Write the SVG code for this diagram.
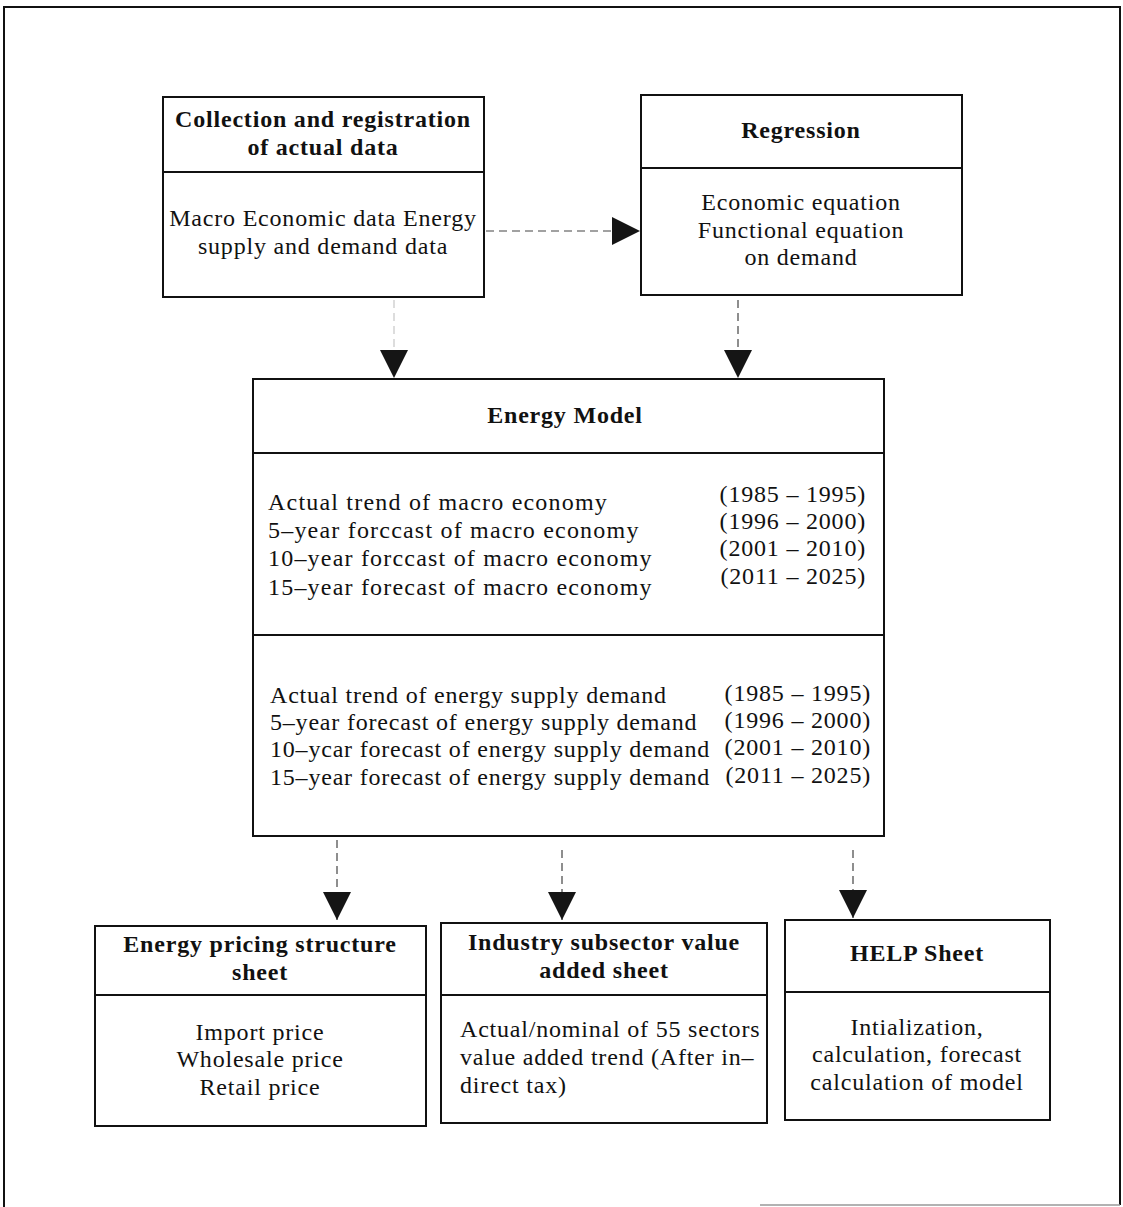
<svg xmlns="http://www.w3.org/2000/svg" width="1123" height="1207" viewBox="0 0 1123 1207">
<defs>
<style>
.box{fill:#fff;stroke:#111;stroke-width:2}
.div{stroke:#111;stroke-width:2}
.frame{stroke:#111;stroke-width:2;fill:none}
.t{font-family:"Liberation Serif","Times New Roman",serif;font-size:24px;font-weight:bold;fill:#111;text-anchor:middle;letter-spacing:0.8px}
.b{font-family:"Liberation Serif","Times New Roman",serif;font-size:24px;fill:#111;letter-spacing:0.8px}
.c{text-anchor:middle}
.e{text-anchor:end}
.w{letter-spacing:1.2px}
.con{stroke:#444;stroke-width:1.2;fill:none;stroke-dasharray:8 5}
</style>
<marker id="tri" viewBox="0 0 28 28" refX="28" refY="14" markerWidth="28" markerHeight="28" markerUnits="userSpaceOnUse" orient="auto">
<path d="M0,0 L28,14 L0,28 Z" fill="#151515"/>
</marker>
</defs>
<rect width="1123" height="1207" fill="#fff"/>
<g id="frame">
<path class="frame" d="M4,1207 L4,7 L1120,7 L1120,1205"/>
<line x1="760" y1="1205" x2="1120" y2="1205" stroke="#999" stroke-width="1.5"/>
</g>
<g id="connectors">
<path class="con" d="M486,231 L640,231" marker-end="url(#tri)"/>
<path class="con" d="M394,300 L394,378" marker-end="url(#tri)" stroke-opacity="0.3"/>
<path class="con" d="M738,300 L738,378" marker-end="url(#tri)" stroke-dasharray="2 5"/>
<path class="con" d="M337,840 L337,920" marker-end="url(#tri)"/>
<path class="con" d="M562,850 L562,920" marker-end="url(#tri)"/>
<path class="con" d="M853,850 L853,918" marker-end="url(#tri)"/>
</g>
<g id="collection">
<rect class="box" x="163" y="97" width="321" height="200"/>
<line class="div" x1="163" y1="172" x2="484" y2="172"/>
<text class="t" x="323" y="127">Collection and registration</text>
<text class="t" x="323" y="155">of actual data</text>
<text class="b c" x="323" y="226">Macro Economic data Energy</text>
<text class="b c" x="323" y="254">supply and demand data</text>
</g>
<g id="regression">
<rect class="box" x="641" y="95" width="321" height="200"/>
<line class="div" x1="641" y1="168" x2="962" y2="168"/>
<text class="t" x="801" y="138">Regression</text>
<text class="b c" x="801" y="210">Economic equation</text>
<text class="b c" x="801" y="238">Functional equation</text>
<text class="b c" x="801" y="265">on demand</text>
</g>
<g id="energy-model">
<rect class="box" x="253" y="379" width="631" height="457"/>
<line class="div" x1="253" y1="453" x2="884" y2="453"/>
<line class="div" x1="253" y1="635" x2="884" y2="635"/>
<text class="t" x="565" y="423">Energy Model</text>
<text class="b w" x="268" y="510">Actual trend of macro economy</text>
<text class="b w" x="268" y="538">5–year forccast of macro economy</text>
<text class="b w" x="268" y="566">10–year forccast of macro economy</text>
<text class="b w" x="268" y="595">15–year forecast of macro economy</text>
<text class="b e" x="866" y="502">(1985 – 1995)</text>
<text class="b e" x="866" y="529">(1996 – 2000)</text>
<text class="b e" x="866" y="556">(2001 – 2010)</text>
<text class="b e" x="866" y="584">(2011 – 2025)</text>
<text class="b" x="270" y="703">Actual trend of energy supply demand</text>
<text class="b" x="270" y="730">5–year forecast of energy supply demand</text>
<text class="b" x="270" y="757">10–ycar forecast of energy supply demand</text>
<text class="b" x="270" y="785">15–year forecast of energy supply demand</text>
<text class="b e" x="871" y="701">(1985 – 1995)</text>
<text class="b e" x="871" y="728">(1996 – 2000)</text>
<text class="b e" x="871" y="755">(2001 – 2010)</text>
<text class="b e" x="871" y="783">(2011 – 2025)</text>
</g>
<g id="pricing">
<rect class="box" x="95" y="926" width="331" height="200"/>
<line class="div" x1="95" y1="995" x2="426" y2="995"/>
<text class="t" x="260" y="952">Energy pricing structure</text>
<text class="t" x="260" y="980">sheet</text>
<text class="b c" x="260" y="1040">Import price</text>
<text class="b c" x="260" y="1067">Wholesale price</text>
<text class="b c" x="260" y="1095">Retail price</text>
</g>
<g id="industry">
<rect class="box" x="441" y="923" width="326" height="200"/>
<line class="div" x1="441" y1="995" x2="767" y2="995"/>
<text class="t" x="604" y="950">Industry subsector value</text>
<text class="t" x="604" y="978">added sheet</text>
<text class="b" x="460" y="1037">Actual/nominal of 55 sectors</text>
<text class="b" x="460" y="1065">value added trend (After in–</text>
<text class="b" x="460" y="1093">direct tax)</text>
</g>
<g id="help">
<rect class="box" x="785" y="920" width="265" height="200"/>
<line class="div" x1="785" y1="992" x2="1050" y2="992"/>
<text class="t" x="917" y="961">HELP Sheet</text>
<text class="b c" x="917" y="1035">Intialization,</text>
<text class="b c" x="917" y="1062">calculation, forecast</text>
<text class="b c" x="917" y="1090">calculation of model</text>
</g>
</svg>
